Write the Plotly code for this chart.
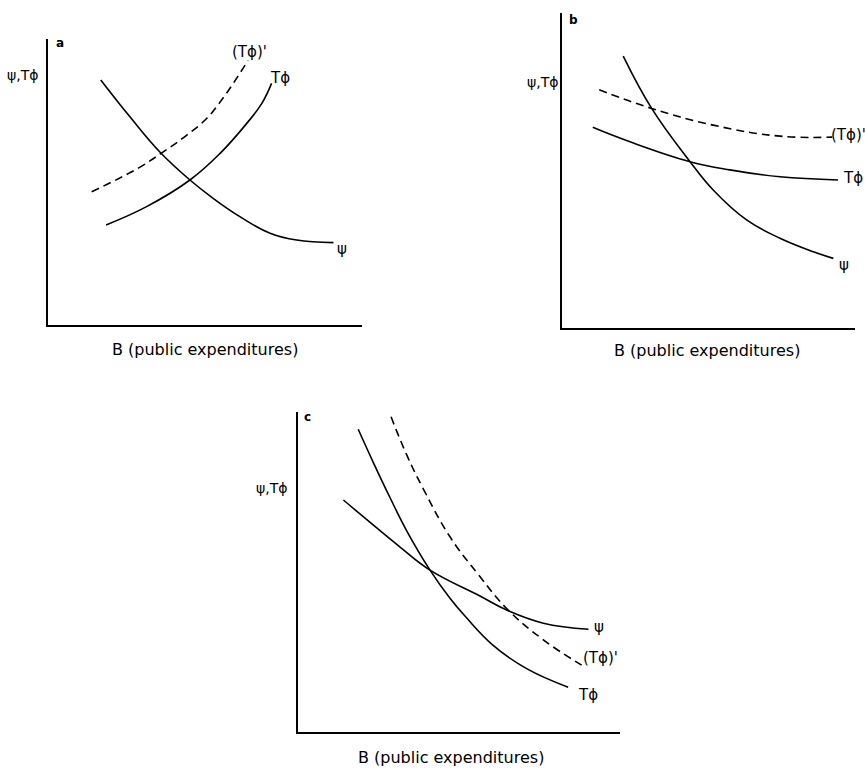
import plotly.graph_objects as go

# ---------------- data (chart units 0-100 on each panel) ----------------
# Panel a
a_psi_x = [16.8, 26.1, 35.7, 45.2, 52.6, 61.1, 70.7, 79.2, 90.9]
a_psi_y = [85.7, 72.8, 60.4, 50.7, 44.3, 37.9, 32.1, 29.7, 28.8]
a_tphi_x = [18.5, 31.4, 45.2, 54.8, 63.3, 68.1, 71.2]
a_tphi_y = [35.0, 41.4, 50.7, 60.0, 70.5, 77.5, 84.5]
a_tphi2_x = [13.9, 20.7, 29.3, 36.0, 43.5, 50.6, 55.7, 60.2, 63.7]
a_tphi2_y = [46.6, 50.2, 55.2, 60.0, 65.8, 72.3, 79.3, 86.5, 92.5]

# Panel b
b_psi_x = [20.9, 30.6, 43.7, 51.6, 63.0, 74.4, 85.8, 92.6]
b_psi_y = [86.3, 69.7, 52.8, 43.8, 34.3, 28.5, 24.2, 22.1]
b_tphi_x = [10.5, 23.2, 43.7, 57.3, 74.4, 94.2]
b_tphi_y = [63.7, 59.1, 52.8, 50.2, 48.0, 47.0]
b_tphi2_x = [12.7, 30.6, 51.6, 74.4, 92.2]
b_tphi2_y = [75.6, 69.7, 64.4, 60.9, 60.6]

# Panel c
c_tphi_x = [18.7, 23.4, 28.6, 33.8, 41.0, 47.2, 52.4, 60.7, 71.0, 83.9]
c_tphi_y = [94.6, 84.2, 73.2, 62.8, 50.6, 41.8, 35.6, 27.0, 19.8, 14.0]
c_psi_x = [14.1, 22.4, 31.7, 41.0, 56.5, 64.8, 76.2, 90.2]
c_psi_y = [72.5, 65.5, 57.8, 50.6, 42.5, 38.1, 34.0, 32.1]
c_tphi2_x = [28.9, 33.8, 38.9, 47.2, 56.0, 64.8, 76.2, 88.1]
c_tphi2_y = [98.5, 86.5, 76.0, 61.0, 49.2, 38.6, 28.8, 20.9]

panel_letters = ["a", "b", "c"]
y_title = "ψ,Tϕ"
x_title = "B (public expenditures)"
lbl_psi = "ψ"
lbl_tphi = "Tϕ"
lbl_tphi2 = "(Tϕ)'"

# ---------------- figure ----------------
W, H = 865, 768
FONT = "DejaVu Sans, Liberation Sans, Arial, sans-serif"
fig = go.Figure()

def line(x, y, xa, ya, dashed=False):
    fig.add_trace(go.Scatter(
        x=x, y=y, xaxis=xa, yaxis=ya, mode="lines",
        line=dict(color="black", width=1.6, shape="spline", smoothing=1.2,
                  dash="8px,5px" if dashed else "solid"),
        showlegend=False, hoverinfo="skip"))

line(a_psi_x, a_psi_y, "x", "y")
line(a_tphi_x, a_tphi_y, "x", "y")
line(a_tphi2_x, a_tphi2_y, "x", "y", dashed=True)
line(b_psi_x, b_psi_y, "x2", "y2")
line(b_tphi_x, b_tphi_y, "x2", "y2")
line(b_tphi2_x, b_tphi2_y, "x2", "y2", dashed=True)
line(c_tphi_x, c_tphi_y, "x3", "y3")
line(c_psi_x, c_psi_y, "x3", "y3")
line(c_tphi2_x, c_tphi2_y, "x3", "y3", dashed=True)

def px_dom(a, b):
    return [a / W, b / W]

def py_dom(bottom, top):
    return [1 - bottom / H, 1 - top / H]

ax_common = dict(range=[0, 100], showgrid=False, zeroline=False, showticklabels=False,
                 ticks="", showline=True, linecolor="black", linewidth=2, fixedrange=True)

fig.update_layout(
    width=W, height=H, margin=dict(l=0, r=0, t=0, b=0),
    paper_bgcolor="white", plot_bgcolor="white",
    font=dict(family=FONT, color="black"),
    xaxis=dict(domain=px_dom(48, 362), anchor="y", **ax_common),
    yaxis=dict(domain=py_dom(325, 39), anchor="x", **ax_common),
    xaxis2=dict(domain=px_dom(562, 855), anchor="y2", **ax_common),
    yaxis2=dict(domain=py_dom(328, 13), anchor="x2", **ax_common),
    xaxis3=dict(domain=px_dom(298, 620), anchor="y3", **ax_common),
    yaxis3=dict(domain=py_dom(732, 412), anchor="x3", **ax_common),
)

ann = []
def txt(t, x, y, ax, size=15, xanchor="center", bold=False):
    xr = ("x" + ax) + " domain"
    yr = ("y" + ax) + " domain"
    ann.append(dict(text=f"<b>{t}</b>" if bold else t, x=x / 100, y=y / 100, xref=xr, yref=yr,
                    showarrow=False, xanchor=xanchor, yanchor="middle", borderpad=0,
                    font=dict(size=size, family=FONT, color="black")))

XT = 16
# panel a
txt(panel_letters[0], 3.8, 98.6, "", size=12, bold=True)
txt(y_title, -8.0, 87.4, "", size=14)
txt(lbl_tphi2, 64.3, 95.5, "")
txt(lbl_tphi, 73.9, 86.4, "")
txt(lbl_psi, 93.6, 26.6, "")
txt(x_title, 50.0, -8.7, "", size=XT)

# panel b
txt(panel_letters[1], 3.8, 97.8, "2", size=12, bold=True)
txt(y_title, -6.8, 78.1, "2", size=14)
txt(lbl_tphi2, 91.5, 61.3, "2", xanchor="left")
txt(lbl_tphi, 95.6, 47.6, "2", xanchor="left")
txt(lbl_psi, 94.2, 20.0, "2", xanchor="left")
txt(x_title, 49.5, -7.0, "2", size=XT)

# panel c
txt(panel_letters[2], 3.1, 98.4, "3", size=12, bold=True)
txt(y_title, -8.1, 76.3, "3", size=14)
txt(lbl_psi, 91.6, 32.8, "3", xanchor="left")
txt(lbl_tphi2, 88.2, 23.1, "3", xanchor="left")
txt(lbl_tphi, 86.6, 11.6, "3", xanchor="left")
txt(x_title, 47.5, -8.1, "3", size=XT)

fig.update_layout(annotations=ann)
fig.write_html("out.html", config={"displayModeBar": False},
               post_script="document.body.style.margin='0px';")
